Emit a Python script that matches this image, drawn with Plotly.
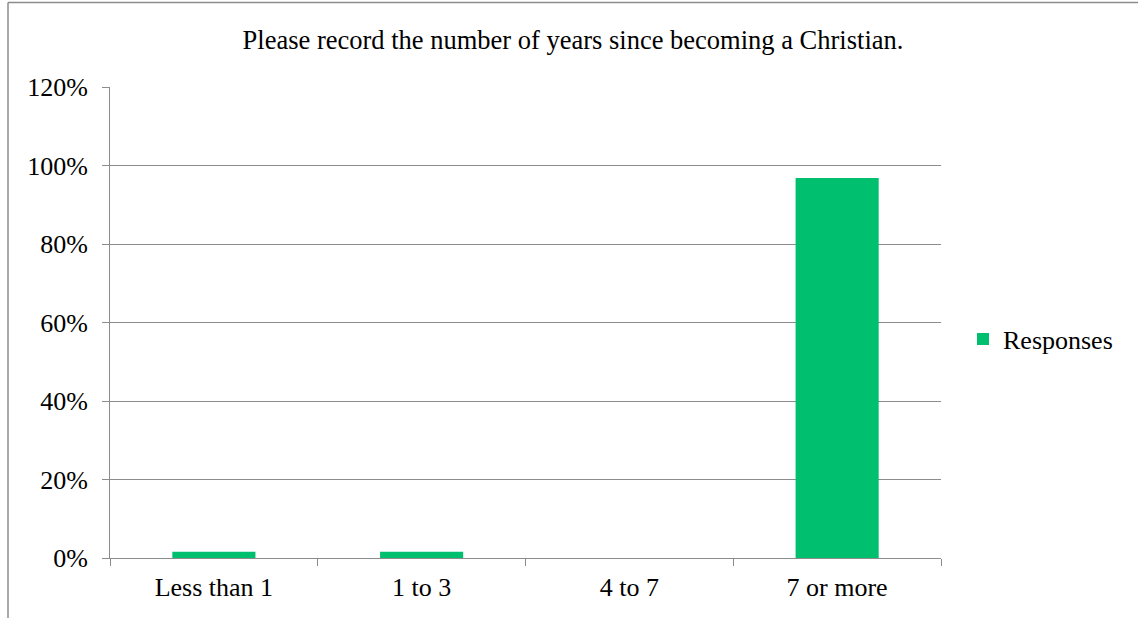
import plotly.graph_objects as go

categories = ["Less than 1", "1 to 3", "4 to 7", "7 or more"]
responses = [0.016, 0.016, 0.0, 0.968]
series_name = "Responses"
title_text = "Please record the number of years since becoming a Christian."

W, H = 1138, 618
L, R, T, B = 110, 197, 87, 60
pw, ph = W - L - R, H - T - B

def px_x(x):
    return (x - L) / pw

def px_y(y):
    return (H - B - y) / ph

font_family = "Liberation Serif, Times New Roman, serif"
grid = "#8c8c8c"

fig = go.Figure()
fig.add_trace(go.Bar(
    x=categories, y=responses, name=series_name,
    marker=dict(color="#00BF6F", line=dict(width=0)),
    showlegend=True,
))

fig.update_layout(
    width=W, height=H,
    margin=dict(l=L, r=R, t=T, b=B),
    paper_bgcolor="white", plot_bgcolor="white",
    font=dict(family=font_family, size=26, color="black"),
    bargap=0.6,
    title=dict(text=title_text, x=573 / W, xref="container", xanchor="center",
               y=1 - 40 / H, yref="container", yanchor="middle",
               font=dict(family=font_family, size=26.5, color="black")),
    showlegend=True,
    legend=dict(x=px_x(963), y=px_y(339), xanchor="left", yanchor="middle",
                font=dict(family=font_family, size=26, color="black"),
                bgcolor="rgba(0,0,0,0)", borderwidth=0),
    xaxis=dict(
        type="category", tickson="boundaries", ticks="outside", ticklen=7,
        tickcolor=grid, showline=True, linecolor=grid, linewidth=1,
        showgrid=False, ticklabelstandoff=6,
        tickfont=dict(family=font_family, size=26, color="black"),
    ),
    yaxis=dict(
        range=[0, 1.2], dtick=0.2, tickformat=".0%", ticks="outside", ticklen=7,
        tickcolor=grid, showline=True, linecolor=grid, linewidth=1,
        showgrid=True, gridcolor=grid, gridwidth=1, zeroline=False,
        ticklabelstandoff=9,
        tickfont=dict(family=font_family, size=26, color="black"),
    ),
    shapes=[
        dict(type="line", xref="paper", yref="paper",
             x0=px_x(8), x1=px_x(1160), y0=px_y(2.5), y1=px_y(2.5),
             line=dict(color="#8c8c8c", width=1.5)),
        dict(type="line", xref="paper", yref="paper",
             x0=px_x(8), x1=px_x(8), y0=px_y(2.5), y1=px_y(640),
             line=dict(color="#8c8c8c", width=1.5)),
    ],
)

fig.write_html("out.html")
